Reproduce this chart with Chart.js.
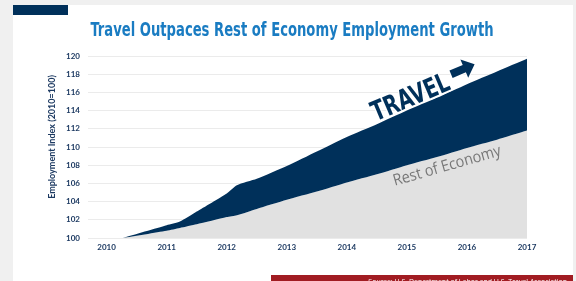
<!DOCTYPE html>
<html>
<head>
<meta charset="utf-8">
<script src="https://cdn.jsdelivr.net/npm/chart.js@4.4.1/dist/chart.umd.min.js"></script>
<style>
  html, body { margin: 0; padding: 0; background: #f0f0f0; }
  #chart { display: block; }
</style>
</head>
<body>
<canvas id="chart" width="576" height="281"></canvas>
<script>
// values (index, 2010 = 100)
const years = [2010.27, 2011, 2011.22, 2011.5, 2012, 2012.17, 2012.5, 2013, 2013.5, 2014, 2014.5, 2015, 2015.5, 2016, 2016.5, 2017];
const restOfEconomy = [100, 100.8, 101.1, 101.5, 102.3, 102.5, 103.2, 104.2, 105.1, 106.1, 107.0, 108.0, 108.9, 109.9, 110.8, 111.8];
const travel = [100, 101.4, 101.8, 102.9, 104.9, 105.8, 106.5, 107.9, 109.5, 111.1, 112.5, 114.0, 115.4, 116.9, 118.3, 119.7];
const yearTicks = [2010, 2011, 2012, 2013, 2014, 2015, 2016, 2017];

const NAVY = '#00305a';
const LABEL = '#1d3a62';
const GREY_AREA = '#e1e1e1';
const NARROW = '"DejaVu Sans Condensed", "Liberation Sans Narrow", sans-serif';

const toPoints = (vals) => vals.map((v, i) => ({ x: years[i], y: v }));

// page frame: grey backdrop, white panel, navy tab, title, red source bar
const framePlugin = {
    id: 'frame',
    beforeDraw(chart) {
        const ctx = chart.ctx;
        ctx.save();
        ctx.fillStyle = '#f0f0f0';
        ctx.fillRect(0, 0, 576, 281);
        ctx.fillStyle = '#ffffff';
        ctx.fillRect(13, 5, 560, 276);
        ctx.fillStyle = NAVY;
        ctx.fillRect(13, 5, 55, 10);

        // title, squeezed to the narrow face of the original
        ctx.save();
        ctx.translate(292, 31);
        ctx.scale(0.77, 1);
        ctx.fillStyle = '#1a7cc2';
        ctx.font = 'bold 19px ' + NARROW;
        ctx.textAlign = 'center';
        ctx.textBaseline = 'middle';
        ctx.fillText('Travel Outpaces Rest of Economy Employment Growth', 0, 0);
        ctx.restore();

        // y axis title (sits a little above the plot centre in the original)
        ctx.save();
        ctx.translate(52, 137);
        ctx.rotate(-Math.PI / 2);
        ctx.fillStyle = LABEL;
        ctx.font = 'bold 9px Lato, sans-serif';
        ctx.textAlign = 'center';
        ctx.textBaseline = 'middle';
        ctx.fillText('Employment Index (2010=100)', 0, 0);
        ctx.restore();

        ctx.fillStyle = '#a11c22';
        ctx.fillRect(271, 275, 302, 6);
        ctx.fillStyle = '#ffffff';
        ctx.font = '7px "Open Sans", sans-serif';
        ctx.textAlign = 'right';
        ctx.textBaseline = 'middle';
        ctx.fillText('Source: U.S. Department of Labor and U.S. Travel Association', 567, 282);
        ctx.restore();
    }
};

// "TRAVEL" with arrow and "Rest of Economy" labels
const labelPlugin = {
    id: 'areaLabels',
    afterDatasetsDraw(chart) {
        const ctx = chart.ctx;
        const xs = chart.scales.x, ys = chart.scales.y;

        ctx.save();
        ctx.translate(xs.getPixelForValue(2015.05), ys.getPixelForValue(115.6));
        ctx.rotate(-23 * Math.PI / 180);
        ctx.scale(0.8, 1);
        ctx.font = 'bold 27px ' + NARROW;
        ctx.textAlign = 'center';
        ctx.textBaseline = 'alphabetic';
        ctx.lineJoin = 'round';
        ctx.lineWidth = 3;
        ctx.strokeStyle = '#ffffff';
        ctx.strokeText('TRAVEL', 0, 10);
        ctx.fillStyle = NAVY;
        ctx.fillText('TRAVEL', 0, 10);

        // arrow
        ctx.beginPath();
        ctx.moveTo(58, -8);
        ctx.lineTo(76, -8);
        ctx.lineTo(76, -14);
        ctx.lineTo(90, -4);
        ctx.lineTo(76, 6);
        ctx.lineTo(76, 0);
        ctx.lineTo(58, 0);
        ctx.closePath();
        ctx.lineWidth = 2;
        ctx.stroke();
        ctx.fill();
        ctx.restore();

        ctx.save();
        ctx.translate(xs.getPixelForValue(2015.67), ys.getPixelForValue(107.9));
        ctx.rotate(-16 * Math.PI / 180);
        ctx.scale(0.9, 1);
        ctx.font = '16px "Open Sans", sans-serif';
        ctx.fillStyle = '#777777';
        ctx.textAlign = 'center';
        ctx.textBaseline = 'middle';
        ctx.fillText('Rest of Economy', 0, 0);
        ctx.restore();
    }
};

const ctx = document.getElementById('chart').getContext('2d');
new Chart(ctx, {
    type: 'line',
    data: {
        datasets: [
            {
                label: 'Rest of Economy',
                data: toPoints(restOfEconomy),
                borderWidth: 0,
                pointRadius: 0,
                backgroundColor: GREY_AREA,
                fill: 'start',
                tension: 0.2,
                order: 2
            },
            {
                label: 'Travel',
                data: toPoints(travel),
                borderWidth: 0,
                pointRadius: 0,
                backgroundColor: NAVY,
                fill: '-1',
                tension: 0.2,
                order: 1
            }
        ]
    },
    options: {
        responsive: false,
        animation: false,
        layout: { padding: { top: 56, right: 49, left: 0, bottom: 0 } },
        plugins: {
            legend: { display: false },
            tooltip: { enabled: false },
            title: { display: false }
        },
        scales: {
            x: {
                type: 'linear',
                min: 2009.69,
                max: 2017,
                afterBuildTicks: (scale) => { scale.ticks = yearTicks.map(v => ({ value: v })); },
                afterFit: (scale) => { scale.height = 43; },
                grid: { display: false, drawTicks: false },
                border: { display: false },
                ticks: {
                    padding: 5,
                    color: LABEL,
                    font: { family: 'Lato, sans-serif', size: 8, weight: 'bold' },
                    callback: (v) => String(v)
                }
            },
            y: {
                min: 100,
                max: 120,
                afterFit: (scale) => { scale.width = 88; },
                grid: { color: '#ebebeb', lineWidth: 1, drawTicks: false },
                border: { display: false },
                ticks: {
                    stepSize: 2,
                    padding: 8,
                    color: LABEL,
                    font: { family: 'Lato, sans-serif', size: 8, weight: 'bold' }
                }
            }
        }
    },
    plugins: [framePlugin, labelPlugin]
});
</script>
</body>
</html>
